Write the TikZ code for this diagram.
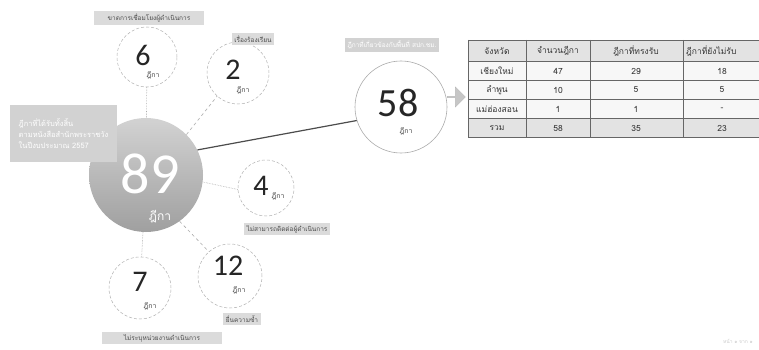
\documentclass[tikz,border=0pt]{standalone}
\usepackage{fontspec}
\setmainfont{Carlito}
\newfontfamily\thai[Script=Thai]{Loma}
\usetikzlibrary{shapes.arrows}
\begin{document}
\begin{tikzpicture}[x=1pt,y=-1pt,
  lbl/.style={fill=gray!28, inner sep=2.5pt, font=\thai\fontsize{6.5}{7.5}\selectfont, text=black!70},
  lblw/.style={lbl, fill=gray!35, text=white},
  smallc/.style={circle, draw=gray!60, densely dashed, line width=0.5pt, fill=white, inner sep=0pt},
  num/.style={font=\fontsize{30}{30}\selectfont, text=black!85, inner sep=0pt},
  unit/.style={font=\thai\fontsize{7}{8}\selectfont, text=black!75, inner sep=0pt},
  conn/.style={draw=gray!65, line width=0.6pt},
  cell/.style={draw=black!60, line width=0.5pt},
  ctext/.style={font=\thai\fontsize{8.5}{9}\selectfont, text=black!80, inner sep=0pt}
]
\useasboundingbox (0,0) rectangle (759,350);
\fill[white] (0,0) rectangle (759,350);

% big circle
\node[circle, minimum size=114pt, inner sep=0pt, shade, top color=gray!35, bottom color=gray!75] (c89) at (146,175) {};

% small circles
\node[smallc, minimum size=60pt] (c6) at (147,57) {};
\node[smallc, minimum size=62pt] (c2) at (238,73) {};
\node[smallc, minimum size=56pt] (c4) at (266,188) {};
\node[smallc, minimum size=64pt] (c12) at (230,276) {};
\node[smallc, minimum size=62pt] (c7) at (140,288) {};
\node[circle, draw=gray!65, line width=0.6pt, minimum size=92pt, inner sep=0pt, fill=white] (c58) at (401,107) {};

% connectors
\draw[conn, densely dotted] (c6) -- (c89);
\draw[conn, dashed] (c89.45) -- (c2.228);
\draw[conn, densely dotted] (c89.-7) -- (c4.183);
\draw[conn, dashed] (c89.-54) -- (c12.131);
\draw[conn, densely dotted] (c89) -- (c7);
\draw[draw=black!70, line width=1.2pt] (c89.26) -- (c58.197);

% numbers
\node[font=\fontsize{58}{58}\selectfont, text=white, inner sep=0pt] (n89) at (150,174) {89};
\node[unit, font=\thai\fontsize{12}{13}\selectfont, text=white] (u89) at (160,217) {ฎีกา};
\node[num] (n6) at (143,55) {6};
\node[unit] (u6) at (153,75) {ฎีกา};
\node[num] (n2) at (233,70) {2};
\node[unit] (u2) at (243,90) {ฎีกา};
\node[num] (n4) at (261,186) {4};
\node[unit] (u4) at (278,196) {ฎีกา};
\node[num] (n12) at (228,266) {12};
\node[unit] (u12) at (239,290) {ฎีกา};
\node[num] (n7) at (140,282) {7};
\node[unit] (u7) at (150,306) {ฎีกา};
\node[font=\fontsize{40}{40}\selectfont, text=black!85, inner sep=0pt] (n58) at (398,103) {58};
\node[unit] (u58) at (406,131) {ฎีกา};

% labels
\node[lbl, minimum width=110pt] (l6) at (149,18) {ขาดการเชื่อมโยงผู้ดำเนินการ};
\node[lbl] (l2) at (253,39) {เรื่องร้องเรียน};
\node[lbl] (l4) at (287,229) {ไม่สามารถติดต่อผู้ดำเนินการ};
\node[lbl] (l12) at (242,319) {ยื่นความซ้ำ};
\node[lbl, minimum width=120pt] (l7) at (162,338) {ไม่ระบุหน่วยงานดำเนินการ};
\node[lblw] (l58) at (392,45) {ฎีกาที่เกี่ยวข้องกับพื้นที่ สปก.ชม.};
\node[lblw, minimum width=107pt, minimum height=56pt, align=left, font=\thai\fontsize{7.5}{11}\selectfont] (l89) at (63.5,133.5) {ฎีกาที่ได้รับทั้งสิ้น\\ตามหนังสือสำนักพระราชวัง\\ในปีงบประมาณ 2557};

% arrow
\node[single arrow, fill=gray!45, draw=gray!55, minimum height=18pt, minimum width=20pt, single arrow head extend=3pt, inner sep=0pt] (arr) at (456,97) {};

% table
\fill[gray!22] (468,40) rectangle (760,61);
\fill[gray!22] (468,118) rectangle (760,137);
\fill[gray!6] (468,61) rectangle (760,118);
\foreach \y in {40,61,80,99,118,137} \draw[cell] (468,\y) -- (760,\y);
\foreach \x in {468,526,590,683} \draw[cell] (\x,40) -- (\x,137);
\node[ctext] (h1) at (497,51) {จังหวัด};
\node[ctext] (h2) at (558,51) {จำนวนฎีกา};
\node[ctext] (h3) at (636,51) {ฎีกาที่ทรงรับ};
\node[ctext, anchor=west] (h4) at (686,51) {ฎีกาที่ยังไม่รับ};
\node[ctext] (r1a) at (497,71) {เชียงใหม่};
\node[ctext] (r1b) at (558,71) {47};
\node[ctext] (r1c) at (636,71) {29};
\node[ctext] (r1d) at (722,71) {18};
\node[ctext] (r2a) at (497,90) {ลำพูน};
\node[ctext] (r2b) at (558,90) {10};
\node[ctext] (r2c) at (636,90) {5};
\node[ctext] (r2d) at (722,90) {5};
\node[ctext] (r3a) at (497,109) {แม่ฮ่องสอน};
\node[ctext] (r3b) at (558,109) {1};
\node[ctext] (r3c) at (636,109) {1};
\node[ctext] (r3d) at (722,109) {-};
\node[ctext] (r4a) at (497,128) {รวม};
\node[ctext] (r4b) at (558,128) {58};
\node[ctext] (r4c) at (636,128) {35};
\node[ctext] (r4d) at (722,128) {23};

% footer
\node[font=\thai\fontsize{5}{6}\selectfont, text=gray!40, inner sep=0pt] (foot) at (738,341) {หน้า ๑ จาก ๑};
\end{tikzpicture}
\end{document}
